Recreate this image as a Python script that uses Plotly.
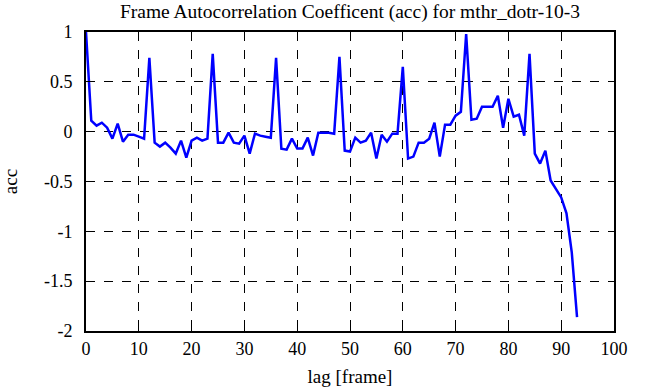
import plotly.graph_objects as go

lags = list(range(94))
acc = [
    1.00, 0.11, 0.06, 0.09, 0.04, -0.07, 0.08, -0.10, -0.03, -0.03,
    -0.05, -0.07, 0.74, -0.11, -0.15, -0.11, -0.16, -0.22, -0.09, -0.26,
    -0.09, -0.06, -0.09, -0.07, 0.78, -0.11, -0.11, -0.01, -0.11, -0.12,
    -0.04, -0.22, -0.02, -0.04, -0.05, -0.06, 0.74, -0.17, -0.18, -0.07,
    -0.17, -0.17, -0.06, -0.24, -0.01, -0.01, -0.01, -0.02, 0.75, -0.19,
    -0.20, -0.06, -0.11, -0.09, -0.01, -0.27, -0.03, -0.10, -0.02, -0.02,
    0.65, -0.27, -0.25, -0.11, -0.11, -0.07, 0.09, -0.25, 0.07, 0.07,
    0.16, 0.20, 0.98, 0.12, 0.13, 0.25, 0.25, 0.25, 0.36, 0.04,
    0.33, 0.15, 0.17, -0.04, 0.78, -0.22, -0.32, -0.19, -0.49, -0.57,
    -0.66, -0.82, -1.21, -1.86,
]
x_ticks = [0, 10, 20, 30, 40, 50, 60, 70, 80, 90, 100]
y_ticks = [1, 0.5, 0, -0.5, -1, -1.5, -2]
y_tick_labels = ["1", "0.5", "0", "-0.5", "-1", "-1.5", "-2"]

title_text = "Frame Autocorrelation Coefficent (acc) for mthr_dotr-10-3"
x_label = "lag [frame]"
y_label = "acc"

serif = "Liberation Serif"

fig = go.Figure()
fig.add_trace(go.Scatter(x=lags, y=acc, mode="lines",
                         line=dict(color="#0000ff", width=2.5),
                         showlegend=False, hoverinfo="skip"))

axis_common = dict(
    showline=True, linecolor="black", linewidth=2, mirror="ticks",
    ticks="inside", ticklen=5, tickwidth=1, tickcolor="black",
    showgrid=True, gridcolor="black", gridwidth=1, griddash="dash",
    zeroline=False,
)

fig.update_xaxes(range=[0, 100], tickvals=x_ticks,
                 ticktext=[str(t) for t in x_ticks],
                 tickfont=dict(family=serif, size=18, color="black"),
                 title=dict(text=x_label, font=dict(family=serif, size=19, color="black"), standoff=12),
                 **axis_common)
fig.update_yaxes(range=[-2, 1], tickvals=y_ticks, ticktext=y_tick_labels,
                 tickfont=dict(family=serif, size=18, color="black"),
                 ticklabelstandoff=8,
                 title=dict(text=y_label, font=dict(family=serif, size=19, color="black"), standoff=22),
                 **axis_common)

fig.update_layout(
    template="none",
    width=646, height=387,
    font=dict(family=serif, size=18, color="black"),
    margin=dict(l=86, r=32, t=32, b=56, autoexpand=False),
    paper_bgcolor="white", plot_bgcolor="white",
    title=dict(text=title_text, x=0.5417, xanchor="center", y=1 - 11 / 387,
               yanchor="middle", font=dict(family=serif, size=19.5, color="black")),
)

post = (
    "document.body.style.margin='0';"
    "var s=document.createElement('style');"
    "s.textContent=\".xtick text, .ytick text {font-family: 'Liberation Serif', serif !important;}\";"
    "document.head.appendChild(s);"
)

fig.write_html("out.html", config={"displayModeBar": False, "staticPlot": True},
               post_script=post)
